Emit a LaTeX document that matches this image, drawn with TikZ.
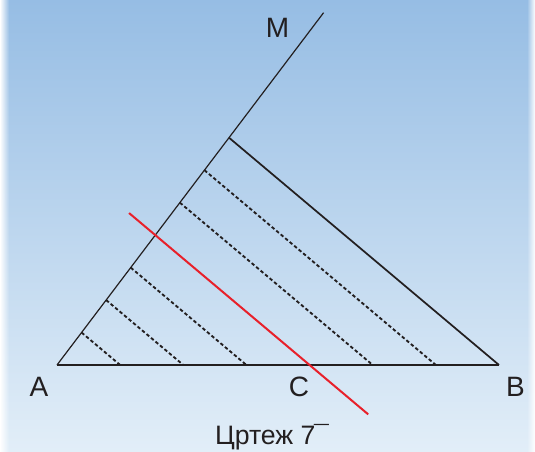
\documentclass[tikz,border=0pt]{standalone}
\usepackage{fontspec}
\setmainfont{Liberation Sans}
\usetikzlibrary{calc,fadings}
\definecolor{bgtop}{RGB}{150,189,228}
\definecolor{bgbottom}{RGB}{226,238,248}
\definecolor{redline}{HTML}{E8202A}
\definecolor{textgray}{HTML}{231F20}

\begin{document}
\begin{tikzpicture}[x=0.75pt,y=-0.75pt,
  label/.style={anchor=base,font=\fontsize{21}{25}\selectfont,text=textgray},
  thin line/.style={textgray,line width=0.9pt},
  dashline/.style={textgray,line width=1.4pt,dash pattern=on 2.6pt off 1.8pt}]
  \useasboundingbox (0,0) rectangle (535,452);
  % Fondo degradado
  \shade[top color=bgtop,bottom color=bgbottom] (0,0) rectangle (535,452);
  \fill[white,path fading=east] (0,0) rectangle (9,452);
  \fill[white,path fading=west] (527,0) rectangle (535,452);
  % Puntos principales
  \coordinate (A) at (57,365);
  \coordinate (B) at (499,365);
  \coordinate (K) at (229,137.7);
  \coordinate (Mend) at ($(A)!1.55!(K)$);
  % Rayo y lados
  \draw[thin line] (A) -- (Mend);
  \draw[thin line] (A) -- (B);
  \draw[textgray,line width=1.3pt] (K) -- (B);
  % Divisiones en siete partes
  \foreach \k in {1,...,6}{
    \coordinate (P\k) at ($(A)!\k/7!(K)$);
    \coordinate (Q\k) at ($(A)!\k/7!(B)$);
  }
  \foreach \k in {1,2,3,5,6}{
    \draw[dashline] (P\k) -- (Q\k);
  }
  % Recta roja por el cuarto punto
  \draw[redline,line width=1.5pt] ($(P4)!-0.17!(Q4)$) -- ($(P4)!1.38!(Q4)$);
  % Rótulos
  \node[label] (labM) at (277.5,37.3) {M};
  \node[label] (labA) at (39,396.7) {A};
  \node[label] (labC) at (299,396.7) {C};
  \node[label] (labB) at (515.5,396.7) {B};
  \node[label,font=\fontsize{20}{24}\selectfont] (caption) at (272,444) {Цртеж 7\kern-0.05em¯};
\end{tikzpicture}
\end{document}
